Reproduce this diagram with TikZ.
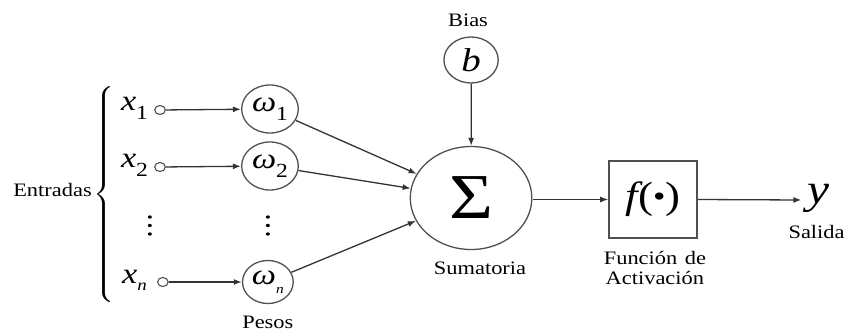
\documentclass[tikz,border=0pt]{standalone}
\usepackage{fontspec}
\setmainfont{Liberation Serif}
\usetikzlibrary{arrows.meta}
\definecolor{ln}{HTML}{333333}
\definecolor{cl}{HTML}{505050}
\newcommand{\lblfont}{\fontsize{19}{21}\selectfont}
\newcommand{\symfont}{\fontsize{29}{30}\selectfont}
\newcommand{\subfont}{\fontsize{20}{20}\selectfont}
\begin{document}
\begin{tikzpicture}[xscale=1.18, x=1pt, y=-1pt, transform shape,
  lbl/.style={font=\lblfont, inner sep=0pt},
  var/.style={font=\symfont, inner sep=0pt},
  smallc/.style={circle, draw=cl, line width=1.1pt, minimum size=9pt, inner sep=0pt},
  wcirc/.style={circle, draw=cl, line width=1.3pt, inner sep=0pt},
  conn/.style={draw=ln, line width=1.3pt, -{Latex[length=8pt,width=6pt]}},
  dotc/.style={circle, fill=black, minimum size=3.4pt, inner sep=0pt}
]
\useasboundingbox (0,0) rectangle (717.8,332);

% inputs
\node[lbl] (ent) at (44.5,190) {Entradas};
\node[inner sep=0pt] (brace) at (89,196) {\scalebox{2}{$\left\{\vrule height 53pt depth 53pt width 0pt\right.$}};

\node[var] (x1) at (114,108) {\itshape x\raisebox{-0.3em}{\subfont\upshape 1}};
\node[var] (x2) at (114,165) {\itshape x\raisebox{-0.3em}{\subfont\upshape 2}};
\node[var] (xn) at (114,280) {\itshape x\raisebox{-0.25em}{\fontsize{16}{16}\selectfont n}};

\node[smallc] (x1c) at (135.6,110) {};
\node[smallc] (x2c) at (135.6,167) {};
\node[smallc] (xnc) at (138,282) {};

% weights
\node[wcirc, minimum size=48pt] (w1) at (228.8,109) {\symfont\itshape ω\raisebox{-0.3em}{\subfont\upshape 1}};
\node[wcirc, minimum size=48pt] (w2) at (228.8,166) {\symfont\itshape ω\raisebox{-0.3em}{\subfont\upshape 2}};
\node[wcirc, minimum size=43pt] (wn) at (227,282) {\symfont\itshape ω\raisebox{-0.3em}{\fontsize{13}{13}\selectfont n}};
\node[lbl] (pesos) at (227,322) {Pesos};

% vertical dots
\node[dotc] (d1a) at (127,217) {};
\node[dotc] (d1b) at (127,225.5) {};
\node[dotc] (d1c) at (127,234) {};
\node[dotc] (d2a) at (227,217) {};
\node[dotc] (d2b) at (227,225.5) {};
\node[dotc] (d2c) at (227,234) {};

% bias
\node[lbl] (biastxt) at (396.6,20) {Bias};
\node[wcirc, minimum size=46pt] (b) at (399.2,60) {\fontsize{33}{33}\selectfont\itshape b};

% summation
\node[wcirc, minimum size=103pt] (sig) at (399.2,198) {\fontsize{64}{64}\selectfont Σ};
\node[lbl] (sumt) at (406.8,268) {Sumatoria};

% activation
\node[draw=cl, line width=1.5pt, minimum width=74.6pt, minimum height=77pt, inner sep=0pt] (f) at (553.4,199.5)
  {\fontsize{38}{38}\selectfont\itshape f\upshape(\raisebox{0.05em}{\fontsize{30}{30}\selectfont •})};
\node[lbl, align=center, text width=100pt] (ftxt) at (555,268) {Función de\\[-1pt]Activación};

% output
\node[inner sep=0pt] (y) at (694,198) {\fontsize{42}{42}\selectfont\itshape y};
\node[lbl] (sal) at (692,232) {Salida};
\coordinate (yin) at (679,200);

% connectors
\draw[conn] (x1c) -- (w1);
\draw[conn] (x2c) -- (w2);
\draw[conn] (xnc) -- (wn);
\draw[conn] (w1) -- (sig);
\draw[conn] (w2) -- (sig);
\draw[conn] (wn) -- (sig);
\draw[conn] (b) -- (sig);
\draw[conn] (sig.east |- f.west) -- (f.west);
\draw[conn] (f.east) -- (yin);
\end{tikzpicture}
\end{document}
